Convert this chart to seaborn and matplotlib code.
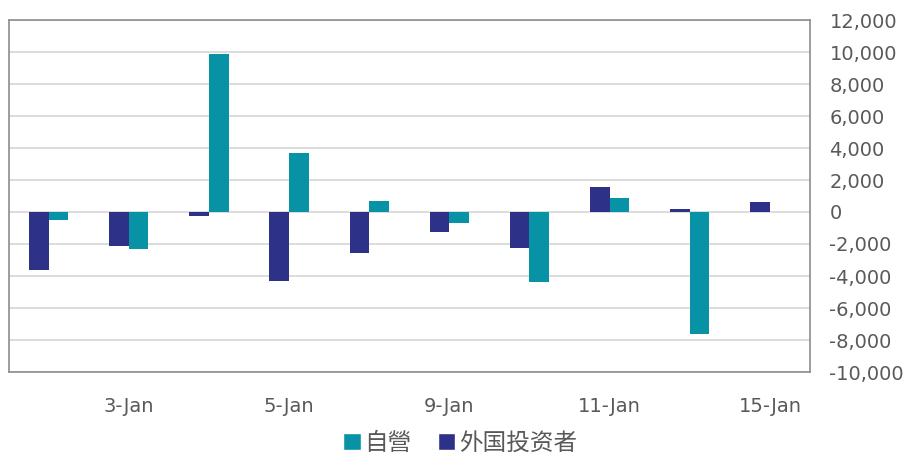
import matplotlib
matplotlib.use("Agg")
import matplotlib.pyplot as plt
import seaborn as sns
import pandas as pd
from matplotlib.ticker import FuncFormatter
from matplotlib.patches import Patch

# data
dates = ["2-Jan", "3-Jan", "4-Jan", "5-Jan", "8-Jan",
         "9-Jan", "10-Jan", "11-Jan", "12-Jan", "15-Jan"]
foreign = [-3600, -2120, -270, -4290, -2560, -1230, -2250, 1590, 210, 600]
dealer = [-475, -2290, 9850, 3670, 710, -665, -4390, 900, -7620, 0]
series_names = ["外国投资者", "自營"]
colors = {"外国投资者": "#2E3188", "自營": "#0892A6"}

sns.set_theme(style="white")
plt.rcParams["font.family"] = ["DejaVu Sans", "Noto Sans CJK SC", "Noto Sans CJK TC"]

df = pd.DataFrame({
    "date": dates * 2,
    "value": foreign + dealer,
    "series": [series_names[0]] * len(dates) + [series_names[1]] * len(dates),
})

fig = plt.figure(figsize=(9.16, 4.63), dpi=100)
ax = fig.add_axes([8.5 / 916, 1 - 372 / 463, (810 - 8.5) / 916, (372 - 20) / 463])

sns.barplot(data=df, x="date", y="value", hue="series", hue_order=series_names,
            order=dates, palette=colors, width=0.49, gap=0, legend=False,
            saturation=1, linewidth=0, ax=ax)

ax.set_ylim(-10000, 12000)
ax.set_yticks(range(-10000, 12001, 2000))
ax.yaxis.set_major_formatter(FuncFormatter(lambda v, p: f"{int(v):,}"))
ax.yaxis.tick_right()
ax.grid(axis="y", color="#d9d9d9", linewidth=1.3)
ax.set_axisbelow(True)
ax.set_xlim(-0.5, len(dates) - 0.5)
ax.set_xticks(range(1, len(dates), 2))
ax.set_xticklabels([dates[i] for i in range(1, len(dates), 2)])
ax.tick_params(axis="both", length=0, labelsize=14, colors="#595959")
ax.tick_params(axis="x", pad=18)
ax.tick_params(axis="y", pad=14)
ax.set_xlabel("")
ax.set_ylabel("")
for s in ax.spines.values():
    s.set_visible(True)
    s.set_color("#8c8c8c")
    s.set_linewidth(1.2)

handles = [Patch(facecolor=colors["自營"], label="自營"),
           Patch(facecolor=colors["外国投资者"], label="外国投资者")]
fig.legend(handles=handles, loc="center", bbox_to_anchor=(460 / 916, 1 - 443 / 463),
           ncol=2, frameon=False, fontsize=17, handlelength=0.75, handleheight=0.75,
           handletextpad=0.15, columnspacing=1.1, labelcolor="#595959")

plt.savefig("out.png", dpi=100)
plt.close()
